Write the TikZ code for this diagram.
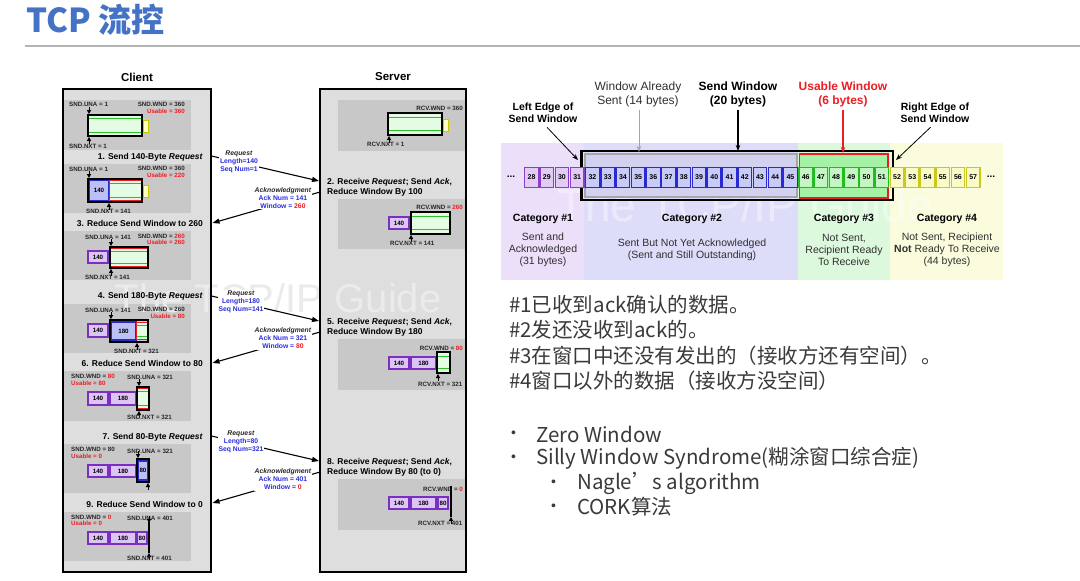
\documentclass[tikz,border=0pt]{standalone}
\usepackage{fontspec}
\setmainfont{Liberation Sans}
\newfontfamily\cjk{Noto Sans CJK SC}
\usetikzlibrary{arrows.meta}
\definecolor{titleblue}{HTML}{4472C4}
\definecolor{rulegray}{HTML}{B4B4B4}
\definecolor{boxgray}{HTML}{DEDEDE}
\definecolor{panelgray}{HTML}{C8C8C8}
\definecolor{txt}{HTML}{262626}
\definecolor{txtb}{HTML}{303030}
\definecolor{redc}{HTML}{EE1C24}
\definecolor{bluec}{HTML}{2B2BE0}
\definecolor{purp}{HTML}{7A2FC0}
\definecolor{purpfill}{HTML}{DCC4F4}
\definecolor{blu}{HTML}{2A2AC8}
\definecolor{blufill}{HTML}{BCC0F4}
\definecolor{gfill}{HTML}{E4FCE4}
\definecolor{gline}{HTML}{2DBE2D}
\definecolor{yel}{HTML}{C8C800}
\definecolor{yelfill}{HTML}{FFFFC4}
\definecolor{cata}{HTML}{ECDFFA}
\definecolor{catb}{HTML}{DDDDF9}
\definecolor{catc}{HTML}{DDF9DD}
\definecolor{catd}{HTML}{FBFBDD}
\definecolor{sentfill}{HTML}{D2D2F0}
\definecolor{usefill}{HTML}{A4F2A4}
\definecolor{cjktxt}{HTML}{3A3A3A}
\definecolor{wmgray}{HTML}{EBEBEB}
\definecolor{cpurp}{HTML}{8B3FC8}
\definecolor{cpurpf}{HTML}{E2CCF6}
\definecolor{cblue}{HTML}{2A2AD0}
\definecolor{cbluef}{HTML}{C8CAF8}
\definecolor{cgreen}{HTML}{22BB22}
\definecolor{cgreenf}{HTML}{C4F6C4}
\definecolor{cyel}{HTML}{C8C820}
\definecolor{cyelf}{HTML}{FBFBC8}

% green window interior
\newcommand\gwin[4]{%
  \fill[gfill] (#1,#3) rectangle (#2,#4);
  \draw[gline, line width=1] (#1,#3+3.2) -- (#2,#3+3.2);
  \draw[gline, line width=1] (#1,#4-3.2) -- (#2,#4-3.2);}
% green window with red frame
\newcommand\rwin[4]{%
  \gwin{#1}{#2}{#3}{#4}%
  \draw[redc, line width=1.1] (#1+0.8,#3+0.8) rectangle (#2-0.8,#4-0.8);}
% pointer marks
\newcommand\dmk[2]{\draw[line width=0.8] (#1,#2-7) -- (#1,#2-3);
  \fill (#1-2.2,#2-4) -- (#1+2.2,#2-4) -- (#1,#2) -- cycle;}
\newcommand\umk[2]{\draw[line width=0.8] (#1,#2+7) -- (#1,#2+3);
  \fill (#1-2.2,#2+4) -- (#1+2.2,#2+4) -- (#1,#2) -- cycle;}
% byte segment node: name, style, x1, x2, y1, y2, text
\newcommand\seg[7]{\node[#2, inner sep=0, minimum width={(#4-#3)*1pt}, minimum height={(#6-#5)*1pt}] (#1) at ({(#3+#4)/2},{(#5+#6)/2}) {#7};}

\begin{document}
\begin{tikzpicture}[x=1pt,y=-1pt,
  sm/.style={font=\bfseries\fontsize{6.2}{7}\selectfont, inner sep=0, text=txt},
  smw/.style={sm,anchor=west}, sme/.style={sm,anchor=east},
  steplbl/.style={font=\bfseries\fontsize{8.5}{10}\selectfont, inner sep=0, text=black},
  pseg/.style={draw=purp, fill=purpfill, line width=1.1, font=\bfseries\fontsize{6.2}{7}\selectfont},
  bseg/.style={draw=blu, fill=blufill, line width=1.1, font=\bfseries\fontsize{6.2}{7}\selectfont},
  blk/.style={draw=black, line width=1.5},
  ybox/.style={draw=yel, fill=yelfill, line width=0.9},
  panel/.style={fill=panelgray},
  outerbox/.style={draw=black, line width=1.4},
  msglbl/.style={font=\bfseries\fontsize{6.8}{8}\selectfont, align=center, fill=white, inner sep=1pt, text=txt},
  marr/.style={line width=1.1, -{Triangle[length=7pt,width=5pt]}},
  toplbl/.style={font=\fontsize{12}{14}\selectfont, align=center, inner sep=0},
  edgelbl/.style={font=\bfseries\fontsize{10.5}{12}\selectfont, align=center, inner sep=0},
  cathead/.style={font=\bfseries\fontsize{10.5}{12}\selectfont, inner sep=0, text=black},
  catbody/.style={font=\fontsize{10.5}{12}\selectfont, align=center, inner sep=0, text=txtb},
  cell/.style={minimum width=13.6pt, minimum height=20pt, inner sep=0, line width=1.3, anchor=west, font=\bfseries\fontsize{7}{8}\selectfont},
  ptr/.style={line width=0.8, -{Stealth[length=6pt,width=4.5pt]}},
  cjkline/.style={font=\cjk\fontsize{20.5}{24}\selectfont, anchor=west, inner sep=0, text=cjktxt},
  bul/.style={font=\fontsize{14}{16}\selectfont, anchor=west, inner sep=0, text=cjktxt}
]
\useasboundingbox (0,0) rectangle (1080,581);
\fill[white] (0,0) rectangle (1080,581);

% ---------- title ----------
\node[anchor=west, text=titleblue, font=\cjk\bfseries\fontsize{33}{38}\selectfont, inner sep=0] (title) at (26,20) {TCP 流控};
\coordinate (ruleL) at (25,46);
\coordinate (ruleR) at (1080,46);
\draw[rulegray, line width=1.2] (ruleL) -- (ruleR);

% ---------- client / server boxes ----------
\node[font=\bfseries\fontsize{11.5}{13}\selectfont, inner sep=0] (clientlbl) at (137,77) {Client};
\node[font=\bfseries\fontsize{11.5}{13}\selectfont, inner sep=0] (serverlbl) at (393,77) {Server};
\fill[boxgray] (63,89) rectangle (211,572);
\fill[boxgray] (320,89) rectangle (466,572);
% client panels
\foreach \a/\b in {100/150,164/213,231/280,304/353,371/421,444/493,512/561}
  \fill[panelgray] (64,\a) rectangle (191,\b);
% server panels
\foreach \a/\b in {100/151,199/249,339/390,479/530}
  \fill[panelgray] (338,\a) rectangle (465,\b);
% watermark
\node[text=wmgray, font=\fontsize{40}{44}\selectfont, inner sep=0] (wm1) at (278,298) {The TCP/IP Guide};
\draw[outerbox] (63,89) rectangle (211,572);
\draw[outerbox] (320,89) rectangle (466,572);

% ---------- client panel 1 ----------
\node[smw] (cu1) at (69,104) {SND.UNA = 1};
\node[sme] (cw1) at (185,104) {SND.WND = 360};
\node[sme, text=redc] (cs1) at (185,111) {Usable = 360};
\rwin{88}{142}{115}{136}
\draw[blk] (88,115) rectangle (142,136);
\draw[ybox] (143.5,120) rectangle (148,132);
\dmk{89}{114} \umk{89}{137}
\node[smw] (cn1) at (69,146) {SND.NXT = 1};
\node[steplbl, anchor=east] (st1) at (203,157) {1. Send 140-Byte \textit{Request}};

% ---------- client panel 2 ----------
\node[smw] (cu2) at (69,169) {SND.UNA = 1};
\node[sme] (cw2) at (185,168) {SND.WND = 360};
\node[sme, text=redc] (cs2) at (185,175) {Usable = 220};
\seg{c2a}{bseg}{89}{109}{180.5}{200.5}{140}
\rwin{109}{142}{180}{201}
\draw[blk] (88,179) rectangle (142,202);
\draw[ybox] (143.5,185) rectangle (148,197);
\dmk{89}{178} \umk{109}{203}
\node[smw] (cn2) at (86,211) {SND.NXT = 141};
\node[steplbl, anchor=east] (st3) at (203,223) {3. Reduce Send Window to 260};

% ---------- client panel 3 ----------
\node[smw] (cu3) at (85,237) {SND.UNA = 141};
\node[sme] (cw3) at (185,236) {SND.WND = \textcolor{redc}{260}};
\node[sme, text=redc] (cs3) at (185,242) {Usable = 260};
\seg{c3a}{pseg}{88}{108}{251}{263}{140}
\rwin{110}{148}{248}{267}
\draw[blk] (110,247) rectangle (148,268);
\dmk{111}{246} \umk{111}{269}
\node[smw] (cn3) at (85,277) {SND.NXT = 141};
\node[steplbl, anchor=east] (st4) at (203,296) {4. Send 180-Byte \textit{Request}};

% ---------- client panel 4 ----------
\node[smw] (cu4) at (85,310) {SND.UNA = 141};
\node[sme] (cw4) at (185,309) {SND.WND = 260};
\node[sme, text=redc] (cs4) at (185,316) {Usable = 80};
\seg{c4a}{pseg}{88}{108}{324}{337}{140}
\seg{c4b}{bseg}{111}{136}{322}{340}{180}
\rwin{136}{148}{322}{340}
\draw[blk] (110,320) rectangle (148,342);
\dmk{111}{319} \umk{137}{343}
\node[smw] (cn4) at (114,351) {SND.NXT = 321};
\node[steplbl, anchor=east] (st6) at (203,363) {6. Reduce Send Window to 80};

% ---------- client panel 5 ----------
\node[smw] (cw5) at (71,376) {SND.WND = \textcolor{redc}{80}};
\node[smw, text=redc] (cs5) at (71,383) {Usable = 80};
\node[smw] (cu5) at (127,377) {SND.UNA = 321};
\seg{c5a}{pseg}{88}{108}{392}{405}{140}
\seg{c5b}{pseg}{110}{136}{392}{405}{180}
\rwin{137}{149}{388}{409}
\draw[blk] (137,387) rectangle (149,410);
\dmk{139}{386} \umk{139}{411}
\node[smw] (cn5) at (127,417) {SND.NXT = 321};
\node[steplbl, anchor=east] (st7) at (203,437) {7. Send 80-Byte \textit{Request}};

% ---------- client panel 6 ----------
\node[smw] (cw6) at (71,449) {SND.WND = 80};
\node[smw, text=redc] (cs6) at (71,456) {Usable = 0};
\node[smw] (cu6) at (127,451) {SND.UNA = 321};
\seg{c6a}{pseg}{88}{108}{465}{477}{140}
\seg{c6b}{pseg}{110}{136}{465}{477}{180}
\seg{c6c}{bseg}{138.5}{147.5}{461}{480}{80}
\draw[blk] (137,459) rectangle (149,482);
\dmk{138}{458} \umk{148}{483}
\node[steplbl, anchor=east] (st9) at (203,504) {9. Reduce Send Window to 0};

% ---------- client panel 7 ----------
\node[smw] (cw7) at (71,517) {SND.WND = \textcolor{redc}{0}};
\node[smw, text=redc] (cs7) at (71,523) {Usable = 0};
\node[smw] (cu7) at (127,518) {SND.UNA = 401};
\seg{c7a}{pseg}{88}{108}{532}{544}{140}
\seg{c7b}{pseg}{110}{136}{532}{544}{180}
\seg{c7c}{pseg}{137}{147}{532}{544}{80}
\draw[line width=1.6] (149,522) -- (149,553);
\dmk{149}{523} \umk{149}{553}
\node[smw] (cn7) at (127,558) {SND.NXT = 401};

% ---------- server panel 1 ----------
\node[sme] (sw1) at (463,108) {RCV.WND = 360};
\gwin{389}{442}{114}{134}
\draw[blk] (388,113) rectangle (442,135);
\draw[ybox] (443.5,119) rectangle (448,131);
\umk{389}{136}
\node[smw] (sn1) at (367,144) {RCV.NXT = 1};
\node[steplbl, anchor=west, align=left] (st2) at (327,187) {2. Receive \textit{Request}; Send \textit{Ack},\\Reduce Window By 100};

% ---------- server panel 2 ----------
\node[sme] (sw2) at (463,207) {RCV.WND = \textcolor{redc}{260}};
\seg{s2a}{pseg}{389}{409}{217}{229}{140}
\gwin{411}{450}{213}{233}
\draw[blk] (411,212) rectangle (450,234);
\umk{411}{235}
\node[smw] (sn2) at (390,243) {RCV.NXT = 141};
\node[steplbl, anchor=west, align=left] (st5) at (327,327) {5. Receive \textit{Request}; Send \textit{Ack},\\Reduce Window By 180};

% ---------- server panel 3 ----------
\node[sme] (sw3) at (463,348) {RCV.WND = \textcolor{redc}{80}};
\seg{s3a}{pseg}{389}{409}{357}{369}{140}
\seg{s3b}{pseg}{411}{436}{357}{369}{180}
\gwin{437}{450}{353}{372}
\draw[blk] (437,352) rectangle (450,373);
\umk{438}{374}
\node[smw] (sn3) at (418,384) {RCV.NXT = 321};
\node[steplbl, anchor=west, align=left] (st8) at (327,467) {8. Receive \textit{Request}; Send \textit{Ack},\\Reduce Window By 80 (to 0)};

% ---------- server panel 4 ----------
\node[sme] (sw4) at (463,489) {RCV.WND = \textcolor{redc}{0}};
\seg{s4a}{pseg}{389}{409}{497}{509}{140}
\seg{s4b}{pseg}{411}{436}{497}{509}{180}
\seg{s4c}{pseg}{438}{448}{497}{509}{80}
\draw[line width=1.6] (451,486) -- (451,517);
\umk{451}{517}
\node[smw] (sn4) at (418,523) {RCV.NXT = 401};

% ---------- messages ----------
\coordinate (r1s) at (211.5,156); \coordinate (r1e) at (319,181);
\coordinate (a1s) at (320,192);   \coordinate (a1e) at (212.5,223);
\coordinate (r2s) at (211.5,296); \coordinate (r2e) at (319,321);
\coordinate (a2s) at (320,332);   \coordinate (a2e) at (212.5,363);
\coordinate (r3s) at (211.5,436); \coordinate (r3e) at (319,461);
\coordinate (a3s) at (320,472);   \coordinate (a3e) at (212.5,503);
\draw[marr] (r1s) -- (r1e);
\draw[marr] (a1s) -- (a1e);
\draw[marr] (r2s) -- (r2e);
\draw[marr] (a2s) -- (a2e);
\draw[marr] (r3s) -- (r3e);
\draw[marr] (a3s) -- (a3e);
\node[msglbl] (m1) at (239,162) {\textit{Request}\\\textcolor{bluec}{Length=140}\\\textcolor{bluec}{Seq Num=1}};
\node[msglbl] (m2) at (283,198) {\textit{Acknowledgment}\\\textcolor{bluec}{Ack Num = 141}\\\textcolor{bluec}{Window = }\textcolor{redc}{260}};
\node[msglbl] (m3) at (241,302) {\textit{Request}\\\textcolor{bluec}{Length=180}\\\textcolor{bluec}{Seq Num=141}};
\node[msglbl] (m4) at (283,338) {\textit{Acknowledgment}\\\textcolor{bluec}{Ack Num = 321}\\\textcolor{bluec}{Window = }\textcolor{redc}{80}};
\node[msglbl] (m5) at (241,442) {\textit{Request}\\\textcolor{bluec}{Length=80}\\\textcolor{bluec}{Seq Num=321}};
\node[msglbl] (m6) at (283,479) {\textit{Acknowledgment}\\\textcolor{bluec}{Ack Num = 401}\\\textcolor{bluec}{Window = }\textcolor{redc}{0}};

% ---------- right diagram ----------
\fill[cata] (501,143) rectangle (584,280);
\fill[catb] (584,143) rectangle (798,280);
\fill[catc] (798,143) rectangle (890,280);
\fill[catd] (890,143) rectangle (1003,280);
\node[text=white, opacity=0.4, font=\fontsize{46}{50}\selectfont, inner sep=0] (wm2) at (745,205) {The TCP/IP Guide};
\draw[gray!70, line width=1.2, fill=sentfill] (585,154) rectangle (797,197);
\draw[redc, line width=1.5, fill=usefill] (799.5,154) rectangle (888,198);
\draw[black, line width=2.2] (581.5,151) rectangle (893,200);
\foreach \n in {28,...,31}{\pgfmathsetmacro\xx{585+(\n-32)*15.23}
  \node[cell, draw=cpurp, fill=cpurpf] (c\n) at (\xx,177.5) {\n};}
\foreach \n in {32,...,45}{\pgfmathsetmacro\xx{585+(\n-32)*15.23}
  \node[cell, draw=cblue, fill=cbluef] (c\n) at (\xx,177.5) {\n};}
\foreach \n in {46,...,51}{\pgfmathsetmacro\xx{585+(\n-32)*15.23}
  \node[cell, draw=cgreen, fill=cgreenf] (c\n) at (\xx,177.5) {\n};}
\foreach \n in {52,...,57}{\pgfmathsetmacro\xx{585+(\n-32)*15.23}
  \node[cell, draw=cyel, fill=cyelf] (c\n) at (\xx,177.5) {\n};}
\node[font=\bfseries\fontsize{10}{12}\selectfont, inner sep=0] (dotsL) at (511,177) {...};
\node[font=\bfseries\fontsize{10}{12}\selectfont, inner sep=0] (dotsR) at (991,177) {...};

\node[edgelbl] (le) at (543,113) {Left Edge of\\Send Window};
\node[toplbl, text=txtb] (was) at (638,94) {Window Already\\Sent (14 bytes)};
\node[toplbl, font=\bfseries\fontsize{12}{14}\selectfont] (sw) at (738,94) {Send Window\\(20 bytes)};
\node[toplbl, font=\bfseries\fontsize{12}{14}\selectfont, text=redc] (uw) at (843,94) {Usable Window\\(6 bytes)};
\node[edgelbl] (re) at (935,113) {Right Edge of\\Send Window};
\coordinate (leT) at (578,160);
\coordinate (wasT) at (639,152);
\coordinate (swT) at (738,151);
\coordinate (uwT) at (843,153);
\coordinate (reT) at (896,160);
\draw[ptr, shorten <=6pt] (le.south) -- (leT);
\draw[ptr, gray!70, shorten <=3pt] (was.south -| wasT) -- (wasT);
\draw[ptr, line width=1.2, shorten <=3pt] (sw.south -| swT) -- (swT);
\draw[ptr, redc, line width=1.1, shorten <=3pt] (uw.south -| uwT) -- (uwT);
\draw[ptr, shorten <=6pt] (re.south) -- (reT);

\node[cathead] (h1) at (543,219) {Category \#1};
\node[cathead] (h2) at (692,219) {Category \#2};
\node[cathead] (h3) at (844,219) {Category \#3};
\node[cathead] (h4) at (947,219) {Category \#4};
\node[catbody] (b1) at (543,250) {Sent and\\Acknowledged\\(31 bytes)};
\node[catbody] (b2) at (692,250) {Sent But Not Yet Acknowledged\\(Sent and Still Outstanding)};
\node[catbody] (b3) at (844,250) {Not Sent,\\Recipient Ready\\To Receive};
\node[catbody] (b4) at (947,250) {Not Sent, Recipient\\\textbf{Not} Ready To Receive\\(44 bytes)};

% ---------- notes ----------
\node[cjkline] (t1) at (509,305) {\#1已收到ack确认的数据。};
\node[cjkline] (t2) at (509,330) {\#2发还没收到ack的。};
\node[cjkline] (t3) at (509,356) {\#3在窗口中还没有发出的（接收方还有空间）。};
\node[cjkline] (t4) at (509,381) {\#4窗口以外的数据（接收方没空间）};
\node[bul] (d1) at (511,434) {•};
\node[cjkline] (t5) at (536,434) {Zero Window};
\node[bul] (d2) at (511,458) {•};
\node[cjkline] (t6) at (536,458) {Silly Window Syndrome(糊涂窗口综合症)};
\node[bul] (d3) at (551,483) {•};
\node[cjkline] (t7) at (577,483) {Nagle’s algorithm};
\node[bul] (d4) at (551,507) {•};
\node[cjkline] (t8) at (577,507) {CORK算法};
\end{tikzpicture}
\end{document}
